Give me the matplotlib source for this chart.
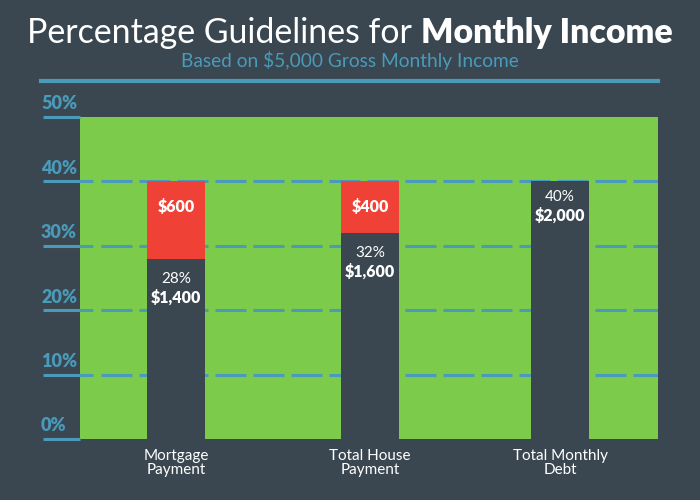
import matplotlib
matplotlib.use('Agg')
import matplotlib.pyplot as plt
import matplotlib.transforms as mtransforms

# --- data ---
categories = ['Mortgage\nPayment', 'Total House\nPayment', 'Total Monthly\nDebt']
base_pct = [28, 32, 40]
base_amt = ['$1,400', '$1,600', '$2,000']
extra_pct = [12, 8, 0]
extra_amt = ['$600', '$400', '']
ticks = [0, 10, 20, 30, 40, 50]

BG = '#3a4750'
GREEN = '#7dcb4a'
RED = '#ef4136'
BLUE = '#4a9aba'
FONT = 'Lato'

plt.rcParams['lines.scale_dashes'] = False

fig = plt.figure(figsize=(7, 5), dpi=100, facecolor=BG)
W, H = 700, 500

# plot area in pixel coordinates of the reference
x0, x1, ytop, ybot = 80, 658, 117, 439
ax = fig.add_axes([x0 / W, 1 - ybot / H, (x1 - x0) / W, (ybot - ytop) / H])
ax.set_facecolor(GREEN)
for s in ax.spines.values():
    s.set_visible(False)
ax.set_xlim(-0.5, 2.51)
ax.set_ylim(0, 50)
ax.set_xticks([])
ax.set_yticks([])

xs = [0, 1.01, 2]
ax.bar(xs, base_pct, width=0.30, color=BG, zorder=3)
ax.bar(xs, extra_pct, bottom=base_pct, width=0.30, color=RED, zorder=3)

# gridlines: solid stub on the left + dashed across the green
blend = mtransforms.blended_transform_factory(fig.transFigure, ax.transData)
for t in ticks:
    ax.plot([43 / W, 93 / W if 0 < t < 50 else x0 / W], [t, t], color=BLUE, lw=2.2,
            transform=blend, clip_on=False, zorder=2, solid_capstyle='butt')
    ax.text(41 / W, t + 0.7, f'{t}%', transform=blend, color=BLUE, fontsize=13,
            fontweight='heavy', family=FONT, ha='left', va='bottom')
    if 0 < t < 50:
        ax.plot([101 / W, x1 / W], [t, t], color=BLUE, lw=2.2, transform=blend,
                dashes=(31 * 0.72, 7 * 0.72), zorder=2, dash_capstyle='butt')

# bar labels
for i, x in enumerate(xs):
    top = base_pct[i] + extra_pct[i]
    if extra_pct[i]:
        ax.text(x, top - 4.0, extra_amt[i], color='white',
                fontsize=11.5, fontweight='heavy', family=FONT, ha='center', va='center', zorder=4)
        ytxt = base_pct[i] - 3.1
    else:
        ytxt = base_pct[i] - 2.4
    ax.text(x, ytxt, f'{base_pct[i]}%', color='white', fontsize=11, family=FONT,
            ha='center', va='center', zorder=4)
    ax.text(x, ytxt - 2.9, base_amt[i], color='white', fontsize=11.5, fontweight='heavy',
            family=FONT, ha='center', va='center', zorder=4)
    ax.text(x, -1.6, categories[i], color='white', fontsize=11, family=FONT,
            ha='center', va='top', linespacing=1.0, clip_on=False)

# title, two weights side by side
r = fig.canvas.get_renderer()
t1 = fig.text(0, 1 - 33 / H, 'Percentage Guidelines for ', color='white', fontsize=24.4,
              family=FONT, fontweight='normal', va='center', ha='left')
t2 = fig.text(0, 1 - 33 / H, 'Monthly Income', color='white', fontsize=24.4,
              family=FONT, fontweight='heavy', va='center', ha='left')
w1 = t1.get_window_extent(r).width
w2 = t2.get_window_extent(r).width
left = (W - w1 - w2) / 2
t1.set_x(left / W)
t2.set_x((left + w1) / W)

fig.text(0.5, 1 - 60 / H, 'Based on $5,000 Gross Monthly Income', color=BLUE,
         fontsize=13.8, family=FONT, ha='center', va='center')
fig.add_artist(plt.Line2D([41 / W, 658 / W], [1 - 81 / H, 1 - 81 / H], color=BLUE,
                          lw=3, transform=fig.transFigure))

fig.savefig('out.png', dpi=100, facecolor=BG)
